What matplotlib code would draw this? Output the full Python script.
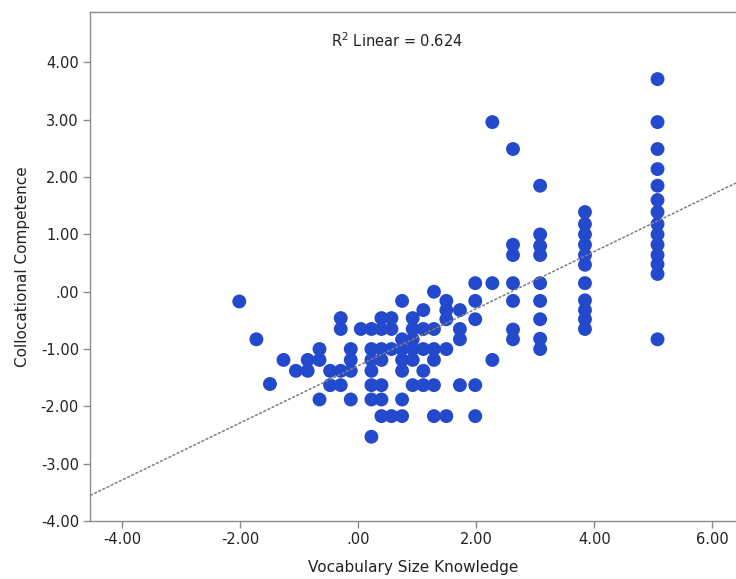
import matplotlib
matplotlib.use("Agg")
import matplotlib.pyplot as plt
from matplotlib.ticker import FuncFormatter, MultipleLocator

# Data: x column -> list of y values
x_cols = [-2.02, -1.73, -1.50, -1.27, -1.06, -0.86, -0.66, -0.48, -0.30, -0.13,
          0.04, 0.22, 0.39, 0.56, 0.74, 0.92, 1.10, 1.28, 1.49, 1.72,
          1.98, 2.27, 2.62, 3.08, 3.84, 5.07]
y_cols = [
    [-0.17],
    [-0.83],
    [-1.61],
    [-1.19],
    [-1.38],
    [-1.19, -1.38],
    [-1.00, -1.19, -1.88],
    [-1.38, -1.63],
    [-0.46, -0.65, -1.38, -1.63],
    [-1.00, -1.19, -1.38, -1.88],
    [-0.65],
    [-0.65, -1.00, -1.19, -1.38, -1.63, -1.88, -2.53],
    [-0.46, -0.65, -1.00, -1.19, -1.63, -1.88, -2.17],
    [-0.46, -0.65, -1.00, -2.17],
    [-0.16, -0.83, -1.00, -1.19, -1.38, -1.88, -2.17],
    [-0.46, -0.65, -0.83, -1.00, -1.19, -1.63],
    [-0.32, -0.65, -1.00, -1.38, -1.63],
    [0.00, -0.65, -1.00, -1.19, -1.63, -2.17],
    [-0.16, -0.32, -0.48, -1.00, -2.17],
    [-0.32, -0.65, -0.83, -1.63],
    [0.15, -0.16, -0.48, -1.63, -2.17],
    [2.96, 0.15, -1.19],
    [2.49, 0.82, 0.64, 0.15, -0.16, -0.66, -0.83],
    [1.85, 1.00, 0.80, 0.64, 0.15, -0.16, -0.48, -0.82, -1.00],
    [1.39, 1.18, 1.00, 0.82, 0.64, 0.47, 0.15, -0.15, -0.32, -0.48, -0.65],
    [3.71, 2.96, 2.49, 2.14, 1.85, 1.60, 1.39, 1.18, 1.00, 0.82, 0.64, 0.48, 0.31, -0.83],
]

# Fit line
fit_intercept = -1.29
fit_slope = 0.498
r2_text = "R$^2$ Linear = 0.624"

x_label = "Vocabulary Size Knowledge"
y_label = "Collocational Competence"
x_ticks = [-4, -2, 0, 2, 4, 6]
y_ticks = [-4, -3, -2, -1, 0, 1, 2, 3, 4]

xs, ys = [], []
for xv, yl in zip(x_cols, y_cols):
    for yv in yl:
        xs.append(xv)
        ys.append(yv)

plt.rcParams['font.family'] = ['DejaVu Sans']

fig = plt.figure(figsize=(7.36, 5.79), dpi=100)
ax = fig.add_axes([0.1223, 0.1002, 0.8777, 0.879])

xlim = (-4.55, 6.4)
ylim = (-4.0, 4.88)
ax.set_xlim(*xlim)
ax.set_ylim(*ylim)

ax.plot(list(xlim), [fit_intercept + fit_slope * xlim[0], fit_intercept + fit_slope * xlim[1]],
        color='#808080', linestyle=(0, (2, 1)), linewidth=1.1, zorder=3)

ax.scatter(xs, ys, s=100, color='#2349CC', edgecolors='none', zorder=2)

def fmt(v, pos):
    s = f"{v:.2f}"
    if s.startswith("0."):
        s = s[1:]
    elif s.startswith("-0."):
        s = "-" + s[2:]
    if s == "-.00":
        s = ".00"
    return s

ax.xaxis.set_major_formatter(FuncFormatter(fmt))
ax.yaxis.set_major_formatter(FuncFormatter(fmt))
ax.set_xticks(x_ticks)
ax.set_yticks(y_ticks)

for side in ['left', 'bottom', 'top']:
    ax.spines[side].set_color('#8c8c8c')
    ax.spines[side].set_linewidth(1.0)
ax.spines['right'].set_visible(False)

ax.tick_params(axis='both', direction='out', length=5, width=1, color='#8c8c8c',
               labelsize=10.5, labelcolor='#222222', pad=3)
ax.tick_params(top=False, right=False)

ax.set_xlabel(x_label, fontsize=11, color='#222222', labelpad=9)
ax.set_ylabel(y_label, fontsize=11, color='#222222', labelpad=8)

ax.text(0.4745, 0.944, r2_text, transform=ax.transAxes, ha='center', va='center',
        fontsize=10.5, color='#222222')

fig.savefig("out.png", dpi=100)
